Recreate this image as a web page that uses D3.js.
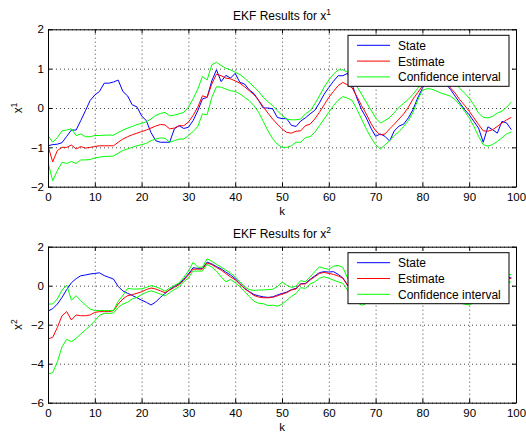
<!DOCTYPE html>
<html>
<head>
  <meta charset="utf-8">
  <title>EKF Results</title>
  <script src="https://d3js.org/d3.v7.min.js"></script>
  <style>
    body { margin: 0; background: #fff; }
    svg { font-family: "Liberation Sans", Arial, sans-serif; }
    .grid line { stroke: #444; stroke-dasharray: 1,3; }
    .grid path { display: none; }
    .ax path, .ax line { stroke: #000; }
    .ax text { font-size: 11.5px; fill: #000; }
    .series { fill: none; stroke-width: 1; }
  </style>
</head>
<body>
<script>
var width = 526, height = 436;

// k = 0..99
var k = d3.range(0, 100);

var x1State = [-0.96,-0.93,-0.92,-0.88,-0.72,-0.56,-0.56,-0.32,-0.07,0.19,
  0.33,0.42,0.63,0.63,0.66,0.71,0.42,0.31,0.08,0.03,
  -0.2,-0.32,-0.62,-0.83,-0.87,-0.87,-0.87,-0.53,-0.45,-0.52,
  -0.49,-0.32,-0.07,0.23,0.27,0.69,0.97,0.67,0.83,0.76,
  0.88,0.65,0.61,0.46,0.37,0.19,0.0,0.0,-0.02,-0.24,
  -0.27,-0.27,-0.44,-0.47,-0.33,-0.25,-0.15,-0.06,0.13,0.35,
  0.52,0.68,0.82,0.82,0.88,0.59,0.25,-0.04,-0.25,-0.51,
  -0.72,-0.66,-0.72,-0.84,-0.58,-0.46,-0.41,-0.25,-0.04,0.26,
  0.5,0.7,0.8,0.82,0.75,0.62,0.47,0.3,0.13,-0.04,
  -0.17,-0.34,-0.51,-0.87,-0.48,-0.55,-0.64,-0.34,-0.38,-0.55];
var x1Est = [-0.96,-1.37,-1.08,-1.0,-1.0,-0.94,-1.04,-0.98,-1.02,-1.0,
  -0.98,-0.96,-0.96,-0.96,-0.96,-0.87,-0.79,-0.73,-0.68,-0.64,
  -0.6,-0.56,-0.51,-0.46,-0.42,-0.43,-0.53,-0.51,-0.45,-0.45,
  -0.36,-0.19,0.02,0.31,0.27,0.61,0.86,0.82,0.76,0.74,
  0.69,0.63,0.54,0.44,0.34,0.2,0.03,-0.13,-0.28,-0.41,
  -0.53,-0.62,-0.64,-0.59,-0.58,-0.45,-0.41,-0.28,-0.11,0.08,
  0.27,0.42,0.57,0.65,0.59,0.51,0.29,0.06,-0.15,-0.39,
  -0.58,-0.68,-0.66,-0.53,-0.41,-0.28,-0.15,0.02,0.23,0.39,
  0.56,0.75,0.84,0.83,0.78,0.66,0.51,0.38,0.21,0.07,
  -0.08,-0.25,-0.42,-0.58,-0.59,-0.55,-0.47,-0.38,-0.3,-0.24];
var x1Upper = [-0.7,-0.87,-0.75,-0.58,-0.56,-0.53,-0.7,-0.66,-0.73,-0.73,
  -0.7,-0.7,-0.69,-0.69,-0.69,-0.62,-0.56,-0.51,-0.47,-0.42,
  -0.39,-0.35,-0.28,-0.19,-0.14,-0.11,-0.2,-0.18,-0.15,-0.11,
  0.02,0.23,0.48,0.8,0.71,1.1,1.16,1.08,1.01,0.97,
  0.91,0.85,0.76,0.65,0.54,0.42,0.27,0.16,0.06,-0.07,
  -0.19,-0.28,-0.3,-0.3,-0.28,-0.15,-0.07,0.1,0.31,0.53,
  0.71,0.86,0.97,0.97,0.91,0.8,0.55,0.35,0.15,-0.05,
  -0.25,-0.38,-0.32,-0.24,-0.12,0.02,0.12,0.22,0.35,0.5,
  0.7,0.95,1.08,1.1,1.05,0.95,0.8,0.62,0.5,0.38,
  0.25,0.08,-0.13,-0.24,-0.25,-0.21,-0.13,-0.08,0.02,0.15];
var x1Lower = [-1.38,-1.85,-1.59,-1.38,-1.41,-1.36,-1.41,-1.32,-1.32,-1.31,
  -1.27,-1.25,-1.23,-1.23,-1.22,-1.15,-1.08,-1.04,-1.0,-0.96,
  -0.93,-0.9,-0.83,-0.79,-0.76,-0.77,-0.87,-0.83,-0.79,-0.79,
  -0.7,-0.6,-0.47,-0.15,-0.17,0.27,0.54,0.53,0.48,0.44,
  0.42,0.36,0.27,0.19,0.06,-0.11,-0.34,-0.58,-0.78,-0.92,
  -1.0,-1.0,-0.96,-0.87,-0.87,-0.75,-0.73,-0.62,-0.45,-0.28,
  -0.11,0.06,0.2,0.29,0.25,0.19,-0.03,-0.28,-0.53,-0.75,
  -0.93,-1.04,-0.94,-0.83,-0.7,-0.6,-0.47,-0.32,-0.11,0.2,
  0.45,0.49,0.48,0.43,0.38,0.34,0.3,0.21,0.08,-0.08,
  -0.25,-0.47,-0.72,-0.93,-0.97,-0.93,-0.85,-0.76,-0.66,-0.61];

var x2State = [-1.3,-1.18,-0.94,-0.6,-0.2,0.15,0.36,0.51,0.55,0.6,
  0.63,0.66,0.52,0.43,0.34,-0.04,-0.27,-0.39,-0.5,-0.62,
  -0.74,-0.85,-0.99,-0.84,-0.6,-0.4,-0.2,-0.04,0.1,0.33,
  0.6,0.92,0.89,0.89,1.21,1.12,0.98,0.86,0.7,0.55,
  0.36,0.11,-0.13,-0.3,-0.45,-0.52,-0.57,-0.6,-0.57,-0.48,
  -0.4,-0.33,-0.2,-0.14,0.1,0.12,0.32,0.5,0.67,0.72,
  0.7,0.72,0.58,0.4,0.03,-0.3,-0.55,-0.68,-0.6,-0.4,
  -0.2,0.0,0.2,0.38,0.52,0.62,0.68,0.62,0.48,0.3,
  0.12,-0.02,-0.1,-0.12,-0.18,-0.3,-0.42,-0.52,-0.6,-0.68,
  -0.65,-0.52,-0.35,-0.15,0.05,0.2,0.3,0.38,0.42,0.4];
var x2Est = [-2.73,-2.65,-2.14,-1.54,-1.33,-1.76,-1.5,-1.54,-1.54,-1.5,
  -1.37,-1.33,-1.33,-1.33,-1.28,-0.94,-0.68,-0.51,-0.46,-0.39,
  -0.31,-0.2,-0.12,-0.17,-0.26,-0.36,-0.22,-0.08,0.05,0.28,
  0.55,0.85,0.85,0.85,1.17,1.08,0.93,0.8,0.62,0.45,
  0.3,0.08,-0.15,-0.32,-0.5,-0.58,-0.62,-0.62,-0.6,-0.52,
  -0.43,-0.36,-0.22,-0.17,0.09,0.09,0.29,0.46,0.63,0.68,
  0.63,0.58,0.5,0.38,0.03,-0.25,-0.5,-0.65,-0.6,-0.42,
  -0.22,-0.02,0.18,0.35,0.5,0.6,0.65,0.6,0.48,0.32,
  0.15,0.0,-0.08,-0.12,-0.18,-0.28,-0.4,-0.5,-0.58,-0.65,
  -0.65,-0.55,-0.38,-0.18,0.0,0.15,0.25,0.32,0.38,0.38];
var x2Upper = [-0.94,-0.94,-0.68,-0.22,0.03,-0.74,-0.51,-0.77,-0.99,-1.2,
  -1.27,-1.27,-1.27,-1.27,-1.27,-0.8,-0.5,-0.14,-0.17,-0.17,
  -0.16,-0.09,0.0,-0.05,-0.15,-0.28,-0.12,0.02,0.14,0.42,
  0.75,1.2,0.95,0.95,1.38,1.25,1.1,0.95,0.8,0.65,
  0.45,0.2,-0.05,-0.2,-0.24,-0.22,-0.22,-0.2,-0.18,-0.05,
  0.18,0.03,-0.09,-0.02,0.26,0.2,0.46,0.72,0.97,0.89,
  0.84,1.0,1.04,0.94,0.4,0.1,-0.2,-0.35,-0.3,-0.12,
  0.08,0.28,0.48,0.65,0.8,0.9,0.95,0.9,0.78,0.62,
  0.45,0.3,0.22,0.18,0.12,0.02,-0.1,-0.2,-0.28,-0.35,
  -0.35,-0.25,-0.08,0.12,0.3,0.42,0.5,0.55,0.58,0.56];
var x2Lower = [-4.53,-4.46,-3.9,-3.13,-2.75,-2.87,-2.7,-2.48,-2.27,-2.05,
  -1.8,-1.52,-1.42,-1.42,-1.4,-1.11,-0.94,-0.85,-0.68,-0.6,
  -0.46,-0.34,-0.26,-0.34,-0.43,-0.53,-0.35,-0.2,-0.05,0.2,
  0.4,0.75,0.75,0.75,1.1,0.95,0.75,0.45,0.2,0.32,
  0.15,-0.05,-0.3,-0.55,-0.8,-0.9,-0.92,-1.02,-1.0,-1.05,
  -0.95,-0.75,-0.55,-0.4,-0.1,-0.14,0.09,0.2,0.38,0.46,
  0.38,0.29,0.2,0.12,-0.22,-0.55,-0.85,-1.0,-0.92,-0.72,
  -0.52,-0.32,-0.12,0.05,0.2,0.3,0.35,0.3,0.18,0.02,
  -0.15,-0.3,-0.38,-0.42,-0.48,-0.58,-0.7,-0.8,-0.88,-0.95,
  -0.98,-0.88,-0.7,-0.5,-0.3,-0.15,-0.05,0.05,0.12,0.2];

var xTicks = [0,10,20,30,40,50,60,70,80,90,100];
var y1Ticks = [-2,-1,0,1,2];
var y2Ticks = [-6,-4,-2,0,2];
var legendLabels = ["State", "Estimate", "Confidence interval"];
var colors = ["#0000ff", "#ff0000", "#00ff00"];

var svg = d3.select("body").append("svg")
  .attr("width", width).attr("height", height);

function drawPanel(top, bottom, yDomain, yTicks, sup, series, id) {
  var left = 48, right = 516;
  var x = d3.scaleLinear().domain([0, 100]).range([left, right]);
  var y = d3.scaleLinear().domain(yDomain).range([bottom, top]);
  var fmt = d3.format("d");
  var g = svg.append("g");

  g.append("clipPath").attr("id", id)
    .append("rect").attr("x", left).attr("y", top)
    .attr("width", right - left).attr("height", bottom - top);

  // dotted grid
  g.append("g").attr("class", "grid")
    .attr("transform", "translate(0," + bottom + ")")
    .call(d3.axisBottom(x).tickValues(xTicks).tickSize(-(bottom - top)).tickFormat(""));
  g.append("g").attr("class", "grid")
    .attr("transform", "translate(" + left + ",0)")
    .call(d3.axisLeft(y).tickValues(yTicks).tickSize(-(right - left)).tickFormat(""));

  var line = d3.line().x(function(d, i) { return x(k[i]); }).y(function(d) { return y(d); });
  series.forEach(function(s) {
    g.append("path").attr("class", "series")
      .attr("clip-path", "url(#" + id + ")")
      .attr("stroke", s.color)
      .attr("d", line(s.values));
  });

  // box with inward ticks
  g.append("g").attr("class", "ax")
    .attr("transform", "translate(0," + bottom + ")")
    .call(d3.axisBottom(x).tickValues(xTicks).tickSize(-4).tickSizeOuter(0).tickPadding(6).tickFormat(fmt));
  g.append("g").attr("class", "ax")
    .attr("transform", "translate(0," + top + ")")
    .call(d3.axisTop(x).tickValues(xTicks).tickSize(-4).tickSizeOuter(0).tickFormat(""));
  g.append("g").attr("class", "ax")
    .attr("transform", "translate(" + left + ",0)")
    .call(d3.axisLeft(y).tickValues(yTicks).tickSize(-4).tickSizeOuter(0).tickPadding(4).tickFormat(fmt));
  g.append("g").attr("class", "ax")
    .attr("transform", "translate(" + right + ",0)")
    .call(d3.axisRight(y).tickValues(yTicks).tickSize(-4).tickSizeOuter(0).tickFormat(""));

  // title
  var t = g.append("text").attr("x", (left + right) / 2).attr("y", top - 9)
    .attr("text-anchor", "middle").style("font-size", "12px").text("EKF Results for x");
  t.append("tspan").attr("dy", "-5").style("font-size", "8.5px").text(sup);

  // x label
  g.append("text").attr("x", (left + right) / 2).attr("y", bottom + 28)
    .attr("text-anchor", "middle").style("font-size", "11.5px").text("k");

  // y label
  var yl = g.append("text")
    .attr("transform", "translate(22," + ((top + bottom) / 2) + ") rotate(-90)")
    .attr("text-anchor", "middle").style("font-size", "12px").text("x");
  yl.append("tspan").attr("dy", "-5").style("font-size", "8.5px").text(sup);

  // legend
  var lg = g.append("g").attr("transform", "translate(348," + (top + 6) + ")");
  lg.append("rect").attr("width", 161).attr("height", 51)
    .attr("fill", "#fff").attr("stroke", "#000");
  legendLabels.forEach(function(lab, i) {
    var yy = 10 + i * 15.8;
    lg.append("line").attr("x1", 9).attr("x2", 42).attr("y1", yy).attr("y2", yy)
      .attr("stroke", colors[i]);
    lg.append("text").attr("x", 50).attr("y", yy + 4.5)
      .style("font-size", "12px").text(lab);
  });
}

drawPanel(29.3, 186.7, [-2, 2], y1Ticks, "1", [
  { values: x1State, color: colors[0] },
  { values: x1Est, color: colors[1] },
  { values: x1Upper, color: colors[2] },
  { values: x1Lower, color: colors[2] }
], "clip1");

drawPanel(246.7, 402.7, [-6, 2], y2Ticks, "2", [
  { values: x2State, color: colors[0] },
  { values: x2Est, color: colors[1] },
  { values: x2Upper, color: colors[2] },
  { values: x2Lower, color: colors[2] }
], "clip2");
</script>
</body>
</html>
